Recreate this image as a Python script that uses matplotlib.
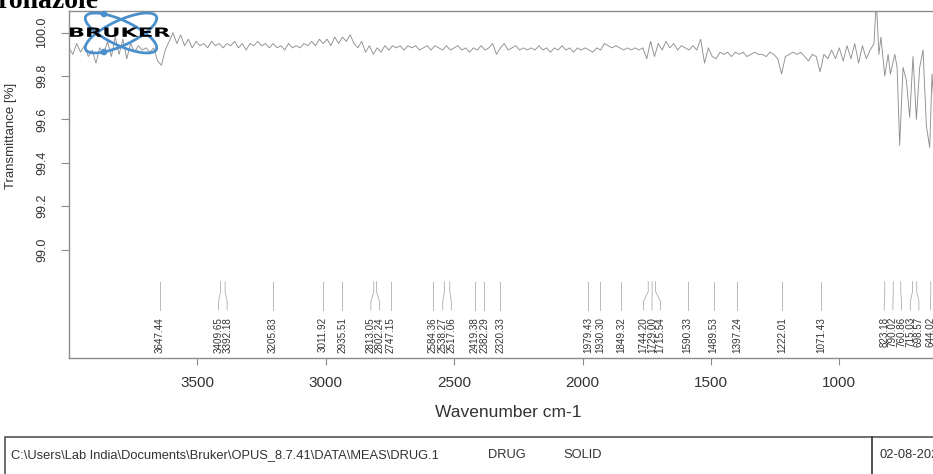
import numpy as np
import matplotlib
matplotlib.use("Agg")
import matplotlib.pyplot as plt
from matplotlib.patches import Ellipse, Circle, PathPatch, Rectangle
from matplotlib.lines import Line2D
from matplotlib.textpath import TextPath
from matplotlib.font_manager import FontProperties
from matplotlib.transforms import Affine2D

# spectrum: 4000 -> 865 cm-1 on a 15 cm-1 step
wn_main = np.arange(4000, 864, -15)
t_main = [
    99.93, 99.90, 99.95, 99.91, 99.94, 99.89, 99.92, 99.86, 99.93, 99.90,
    99.96, 99.89, 99.98, 99.90, 99.97, 99.88, 99.95, 99.91, 99.94, 99.92,
    99.93, 99.91, 99.93, 99.87, 99.85, 99.92, 99.96, 100.00, 99.95, 99.99,
    99.94, 99.97, 99.93, 99.96, 99.94, 99.95, 99.93, 99.96, 99.94, 99.95,
    99.93, 99.95, 99.94, 99.96, 99.93, 99.95, 99.92, 99.95, 99.94, 99.96,
    99.94, 99.95, 99.93, 99.95, 99.93, 99.94, 99.92, 99.95, 99.93, 99.94,
    99.93, 99.95, 99.94, 99.96, 99.94, 99.97, 99.95, 99.97, 99.94, 99.98,
    99.95, 99.98, 99.96, 99.99, 99.95, 99.93, 99.96, 99.91, 99.94, 99.90,
    99.93, 99.91, 99.94, 99.92, 99.94, 99.93, 99.94, 99.92, 99.94, 99.93,
    99.94, 99.92, 99.93, 99.94, 99.92, 99.94, 99.93, 99.92, 99.94, 99.92,
    99.93, 99.94, 99.92, 99.93, 99.91, 99.93, 99.92, 99.94, 99.92, 99.93,
    99.95, 99.90, 99.93, 99.95, 99.92, 99.93, 99.94, 99.92, 99.93, 99.92,
    99.93, 99.92, 99.94, 99.92, 99.93, 99.91, 99.93, 99.92, 99.94, 99.92,
    99.93, 99.91, 99.93, 99.92, 99.93, 99.92, 99.91, 99.93, 99.92, 99.95,
    99.94, 99.93, 99.94, 99.93, 99.92, 99.93, 99.92, 99.93, 99.92, 99.93,
    99.88, 99.96, 99.89, 99.95, 99.92, 99.96, 99.93, 99.95, 99.92, 99.94,
    99.93, 99.92, 99.94, 99.92, 99.97, 99.86, 99.93, 99.89, 99.88, 99.91,
    99.90, 99.91, 99.89, 99.91, 99.90, 99.91, 99.89, 99.90, 99.91, 99.90,
    99.90, 99.89, 99.91, 99.90, 99.88, 99.81, 99.89, 99.90, 99.91, 99.90,
    99.91, 99.89, 99.87, 99.90, 99.89, 99.82, 99.90, 99.88, 99.92, 99.88,
    99.93, 99.87, 99.94, 99.88, 99.95, 99.86, 99.94, 99.88, 99.92, 99.95,
]
# fingerprint region, irregular points
wn_fp = [856, 846, 838, 823, 810, 801, 784, 775, 765, 752,
         739, 726, 713, 700, 687, 674, 661, 648, 639, 625]
t_fp = [100.15, 99.90, 99.98, 99.80, 99.90, 99.81, 99.90, 99.84, 99.48, 99.84,
        99.78, 99.61, 99.89, 99.60, 99.84, 99.92, 99.57, 99.47, 99.81, 99.55]

peaks = [3647.44, 3409.65, 3392.18, 3205.83, 3011.92, 2935.51, 2813.05, 2802.24,
         2747.15, 2584.36, 2538.27, 2517.06, 2419.38, 2382.29, 2320.33, 1979.43,
         1930.30, 1849.32, 1744.20, 1729.00, 1715.54, 1590.33, 1489.53, 1397.24,
         1222.01, 1071.43, 823.18, 790.02, 760.86, 715.03, 698.57, 644.02, 611.92]

y_ticks = [99.0, 99.2, 99.4, 99.6, 99.8, 100.0]
x_ticks = [3500, 3000, 2500, 2000, 1500, 1000]

footer_path = "C:\\Users\\Lab India\\Documents\\Bruker\\OPUS_8.7.41\\DATA\\MEAS\\DRUG.1"
footer_items = ["DRUG", "SOLID"]
footer_date = "02-08-2024"

W, H = 933, 474
GRAY = "#8f8f8f"
TXT = "#333333"


def spread_labels(xs, gap):
    # xs ascending; centre overlapping groups on their mean
    blocks = []
    for x in xs:
        blocks.append([x])
        while len(blocks) > 1:
            a, b = blocks[-2], blocks[-1]
            a_end = np.mean(a) + (len(a) - 1) * gap / 2
            b_start = np.mean(b) - (len(b) - 1) * gap / 2
            if b_start - a_end < gap:
                blocks[-2:] = [a + b]
            else:
                break
    out = []
    for b in blocks:
        c = np.mean(b)
        out += [c + (i - (len(b) - 1) / 2) * gap for i in range(len(b))]
    return out


def fx(px):
    return px / W


def fy(py):
    return 1 - py / H


fig = plt.figure(figsize=(W / 100, H / 100), dpi=100)
ax = fig.add_axes([fx(69), fy(358), (993.4 - 69) / W, (358 - 11) / H])

wn = np.concatenate([wn_main, wn_fp])
tr = np.concatenate([t_main, t_fp])
ax.plot(wn, tr, color=GRAY, lw=0.65)

ax.set_xlim(4000, 400)
ax.set_ylim(98.5, 100.1)
ax.set_xticks(x_ticks)
ax.set_yticks(y_ticks)
ax.set_yticklabels([f"{v:.1f}" for v in y_ticks], rotation=90, va="center")
for side in ["left", "top", "bottom"]:
    ax.spines[side].set_color("#8c8c8c")
    ax.spines[side].set_linewidth(1.0)
ax.spines["right"].set_visible(False)
ax.tick_params(axis="both", direction="out", color="#8c8c8c", labelcolor=TXT)
ax.tick_params(axis="x", length=5, pad=8, labelsize=11)
ax.tick_params(axis="y", length=6, pad=9, labelsize=9)
ax.set_xlabel("Wavenumber cm-1", fontsize=12.5, color=TXT)
ax.xaxis.set_label_coords(0.475, -0.135)
ax.set_ylabel("Transmittance [%]", fontsize=9.5, color=TXT)
ax.yaxis.set_label_coords(-0.056, 0.64)

# peak labels with bent leader lines
scale = (993.4 - 69) / 3600.0
gap = 8.6 / scale
order = sorted(peaks, reverse=True)
lab = [-u for u in spread_labels([-p for p in order], gap)]
y_top, y_b1, y_b2, y_bot, y_txt = 98.852, 98.806, 98.760, 98.722, 98.689
for p, q in zip(order, lab):
    ax.plot([p, p, q, q], [y_top, y_b1, y_b2, y_bot], color="#adadad", lw=0.6,
            clip_on=False)
    ax.text(q, y_txt, f"{p:.2f}", rotation=90, ha="center", va="top",
            fontsize=7.1, color=TXT, family="Liberation Sans")

for lbl in ax.get_xticklabels() + ax.get_yticklabels():
    lbl.set_family("Liberation Sans")
ax.xaxis.label.set_family("Liberation Sans")
ax.yaxis.label.set_family("Liberation Sans")

# Bruker logo
lg = fig.add_axes([fx(60), fy(58), 115 / W, 50 / H])
lg.set_xlim(60, 175)
lg.set_ylim(58, 8)
lg.axis("off")
lg.patch.set_visible(False)
blue = "#4a90cc"
for ang in (25, -25):
    lg.add_patch(Ellipse((121, 33), 78, 25, angle=ang, fill=False,
                         ec=blue, lw=2.0))
for cy in (14, 52):
    lg.add_patch(Circle((104, cy), 2.6, color=blue))
tp = TextPath((0, 0), "BRUKER", size=10,
              prop=FontProperties(family="DejaVu Sans", weight="bold"))
ext = tp.get_extents()
tf = (Affine2D().translate(-ext.x0, -ext.y0)
      .scale(100 / ext.width, -9.5 / ext.height).translate(70, 37))
lg.add_patch(PathPatch(tf.transform_path(tp), fc="black", ec="none"))

# title, cut by the top edge
fig.text(fx(-3), fy(8), "ronazole", fontsize=20, fontweight="bold",
         family="Liberation Serif", ha="left", va="baseline")

# footer box
fig.add_artist(Rectangle((fx(5), fy(520)), (1000 - 5) / W, (520 - 437) / H,
                         transform=fig.transFigure, fill=False, ec="#555555",
                         lw=1.2))
fig.add_artist(Line2D([fx(872), fx(872)], [fy(437), fy(480)],
                      transform=fig.transFigure, color="#333333", lw=1.2))
fs = 9.3
fig.text(fx(11), fy(455), footer_path, fontsize=fs, color=TXT,
         family="Liberation Sans", va="center")
fig.text(fx(488), fy(455), footer_items[0], fontsize=fs, color=TXT,
         family="Liberation Sans", va="center")
fig.text(fx(563), fy(455), footer_items[1], fontsize=fs, color=TXT,
         family="Liberation Sans", va="center")
fig.text(fx(879), fy(455), footer_date, fontsize=fs, color=TXT,
         family="Liberation Sans", va="center")

fig.savefig("out.png", dpi=100)
